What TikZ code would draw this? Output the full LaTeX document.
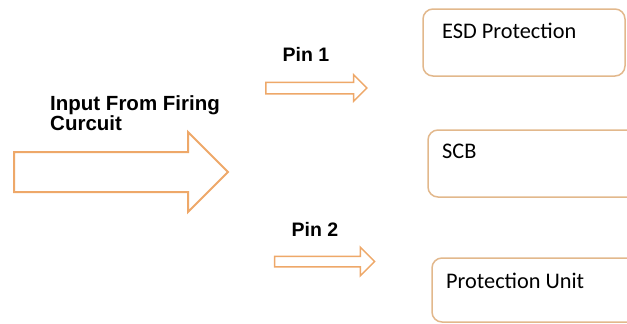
\documentclass[tikz,border=0pt]{standalone}
\usepackage{fontspec}
\setmainfont{Liberation Sans}
\newfontfamily\boxfont{Carlito}
\usepackage{tikz}
\usetikzlibrary{shapes.arrows}
\definecolor{arrowc}{RGB}{238,168,105}
\definecolor{boxc}{RGB}{226,184,140}
\tikzset{
  blockarrow/.style={single arrow, draw=arrowc, fill=white, inner xsep=0pt,
    single arrow head indent=0pt},
  unitbox/.style={draw=boxc, line width=1.5pt, rounded corners=10pt, inner sep=0pt},
  boxtext/.style={anchor=base west, inner sep=0pt, font=\boxfont\fontsize{22.3}{24}\selectfont},
  pintext/.style={inner sep=0pt, font=\bfseries\fontsize{19.5}{22}\selectfont}
}

\begin{document}
\begin{tikzpicture}[x=1pt,y=-1pt]
            \useasboundingbox (0,0) rectangle (627,324);
            % input side
            \node[blockarrow, line width=2pt, minimum height=214pt, inner ysep=19pt,
                  single arrow head extend=20pt] (inarrow) at (111,172) {};
            \node[anchor=north west, inner sep=0pt, align=left,
                  font=\bfseries\fontsize{20.5}{18.5}\selectfont] (intext) at (50,95)
                  {Input From Firing\\Curcuit};

            % pins
            \node[pintext] (pinone) at (306,54) {Pin 1};
            \node[blockarrow, line width=1.5pt, minimum height=101pt, inner ysep=5pt,
                  single arrow head extend=7.5pt] (arrowone) at (313.5,88) {};
            \node[pintext] (pintwo) at (315,229) {Pin 2};
            \node[blockarrow, line width=1.5pt, minimum height=100pt, inner ysep=4.5pt,
                  single arrow head extend=9pt] (arrowtwo) at (322,261.5) {};

            % blocks
            \node[unitbox, minimum width=202pt, minimum height=67pt] (esd) at (524,42.5) {};
            \node[unitbox, minimum width=212pt, minimum height=67pt] (scb) at (534,163.5) {};
            \node[unitbox, minimum width=208pt, minimum height=64pt] (unit) at (536,290) {};
            \node[boxtext] (esdtext) at (442,38) {ESD Protection};
            \node[boxtext] (scbtext) at (442,158) {SCB};
            \node[boxtext] (unittext) at (446,288) {Protection Unit};

        \end{tikzpicture}
\end{document}
